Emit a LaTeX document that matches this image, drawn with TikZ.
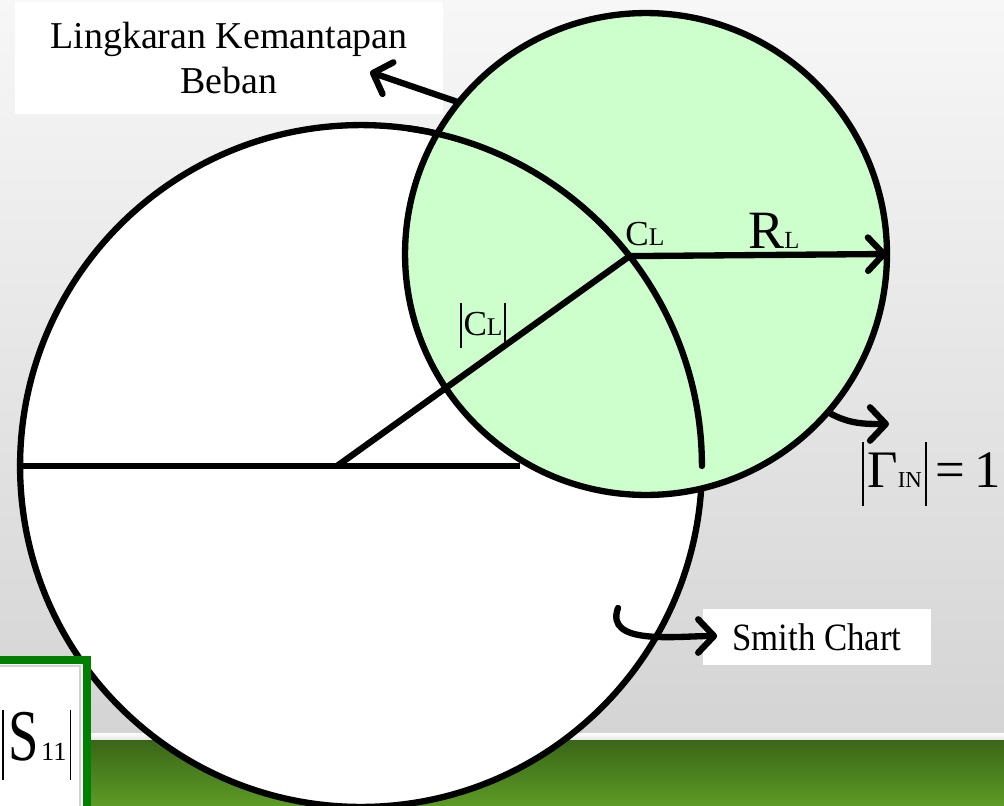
\documentclass[tikz,border=0pt]{standalone}
\usepackage{fontspec}
\setmainfont{Liberation Serif}
\usetikzlibrary{positioning,arrows.meta,calc}
\definecolor{tone1}{HTML}{CCFFCC}
\definecolor{tone2}{HTML}{F7F7F7}
\definecolor{tone3}{HTML}{D4D4D4}
\definecolor{tone4}{HTML}{3A6618}
\definecolor{tone5}{HTML}{5C9A25}
\definecolor{tone6}{HTML}{008000}
\newcommand{\absbar}[2]{\rule[-#2]{0.8pt}{\dimexpr#1+#2\relax}}

\begin{document}
\begin{tikzpicture}[x=0.02cm,y=-0.02cm,
  ring/.style={circle, draw=black, line width=3.6pt, inner sep=0pt, outer sep=0pt},
  pointer/.style={line width=3.6pt, line cap=round, -{Straight Barb[round,length=9pt,width=19pt]}},
  tag/.style={fill=white, inner sep=0pt, align=center}]
\useasboundingbox (0,0) rectangle (1004,805);
\clip (0,0) rectangle (1004,805);
\shade[top color=tone2, bottom color=tone3] (0,0) rectangle (1004,736);
\shade[top color=white, bottom color=tone3!70] (0,733) rectangle (1004,741);
\shade[top color=tone4, bottom color=tone5] (0,740) rectangle (1004,805);
\node[tag, minimum width=8.56cm, minimum height=2.26cm, font=\fontsize{21.6}{26}\selectfont] (stab) at (229,58) {Lingkaran Kemantapan\\Beban};
\node[ring, fill=white, minimum size=13.64cm] (smith) at (361,466) {};
\coordinate (org) at (337,466);
\coordinate (CL) at (smith.38.6);
\draw[line width=3.6pt] (smith.west) -- (520,466);
\node[ring, fill=tone1, minimum size=9.64cm] (load) at (646,254) {};
\draw[line width=3.6pt, line cap=round] (smith.82) arc[start angle=82, end angle=0, radius=6.82cm];
\draw[line width=3.6pt] (org) -- (CL);
\draw[pointer] (CL) -- (load.east);
\node[anchor=base west, inner sep=0pt] (cltag) at (625,245) {\fontsize{20}{20}\selectfont C\fontsize{14.5}{14}\selectfont L};
\node[anchor=base west, inner sep=0pt] (rltag) at (748,248) {\fontsize{30.7}{30}\selectfont R\fontsize{14}{14}\selectfont L};
\node[anchor=base west, inner sep=0pt] (abscl) at (460,335) {\absbar{18.2pt}{7.4pt}\kern1pt\fontsize{20}{20}\selectfont C\fontsize{14.5}{14}\selectfont L\kern1pt\absbar{18.2pt}{7.4pt}};
\node[anchor=base west, inner sep=0pt] (gamma) at (862,487) {\absbar{25.6pt}{10.8pt}\kern2pt\fontsize{30}{30}\selectfont Γ\fontsize{13}{13}\selectfont IN\kern2pt\absbar{25.6pt}{10.8pt}\kern5pt\fontsize{30}{30}\selectfont =\kern5pt1};
\coordinate (gtip) at (889,424);
\draw[pointer] (load.141) -- (370,72);
\draw[pointer] (load.-41) to[out=-30, in=180] (gtip);
\node[tag, minimum width=4.58cm, minimum height=1.12cm, font=\fontsize{22}{24}\selectfont] (chart) at (817,637) {\scalebox{0.9}[1]{Smith Chart}};
\coordinate (hook) at (618,608);
\draw[pointer] (hook) to[out=-110, in=180] ($(chart.west)+(15,-1)$);
\draw[draw=tone6, line width=4pt, fill=white] (-10,660) rectangle (87,820);
\draw[gray!35, line width=0.8pt] (-10,666) -| (80,820);
\node[anchor=base west, inner sep=0pt] (s11) at (2,760) {\absbar{28.5pt}{11.4pt}\kern2.5pt\scalebox{0.75}[1]{\fontsize{41.5}{40}\selectfont S}\kern1.5pt\fontsize{15}{15}\selectfont 11\kern2pt\absbar{28.5pt}{11.4pt}};
\end{tikzpicture}
\end{document}
